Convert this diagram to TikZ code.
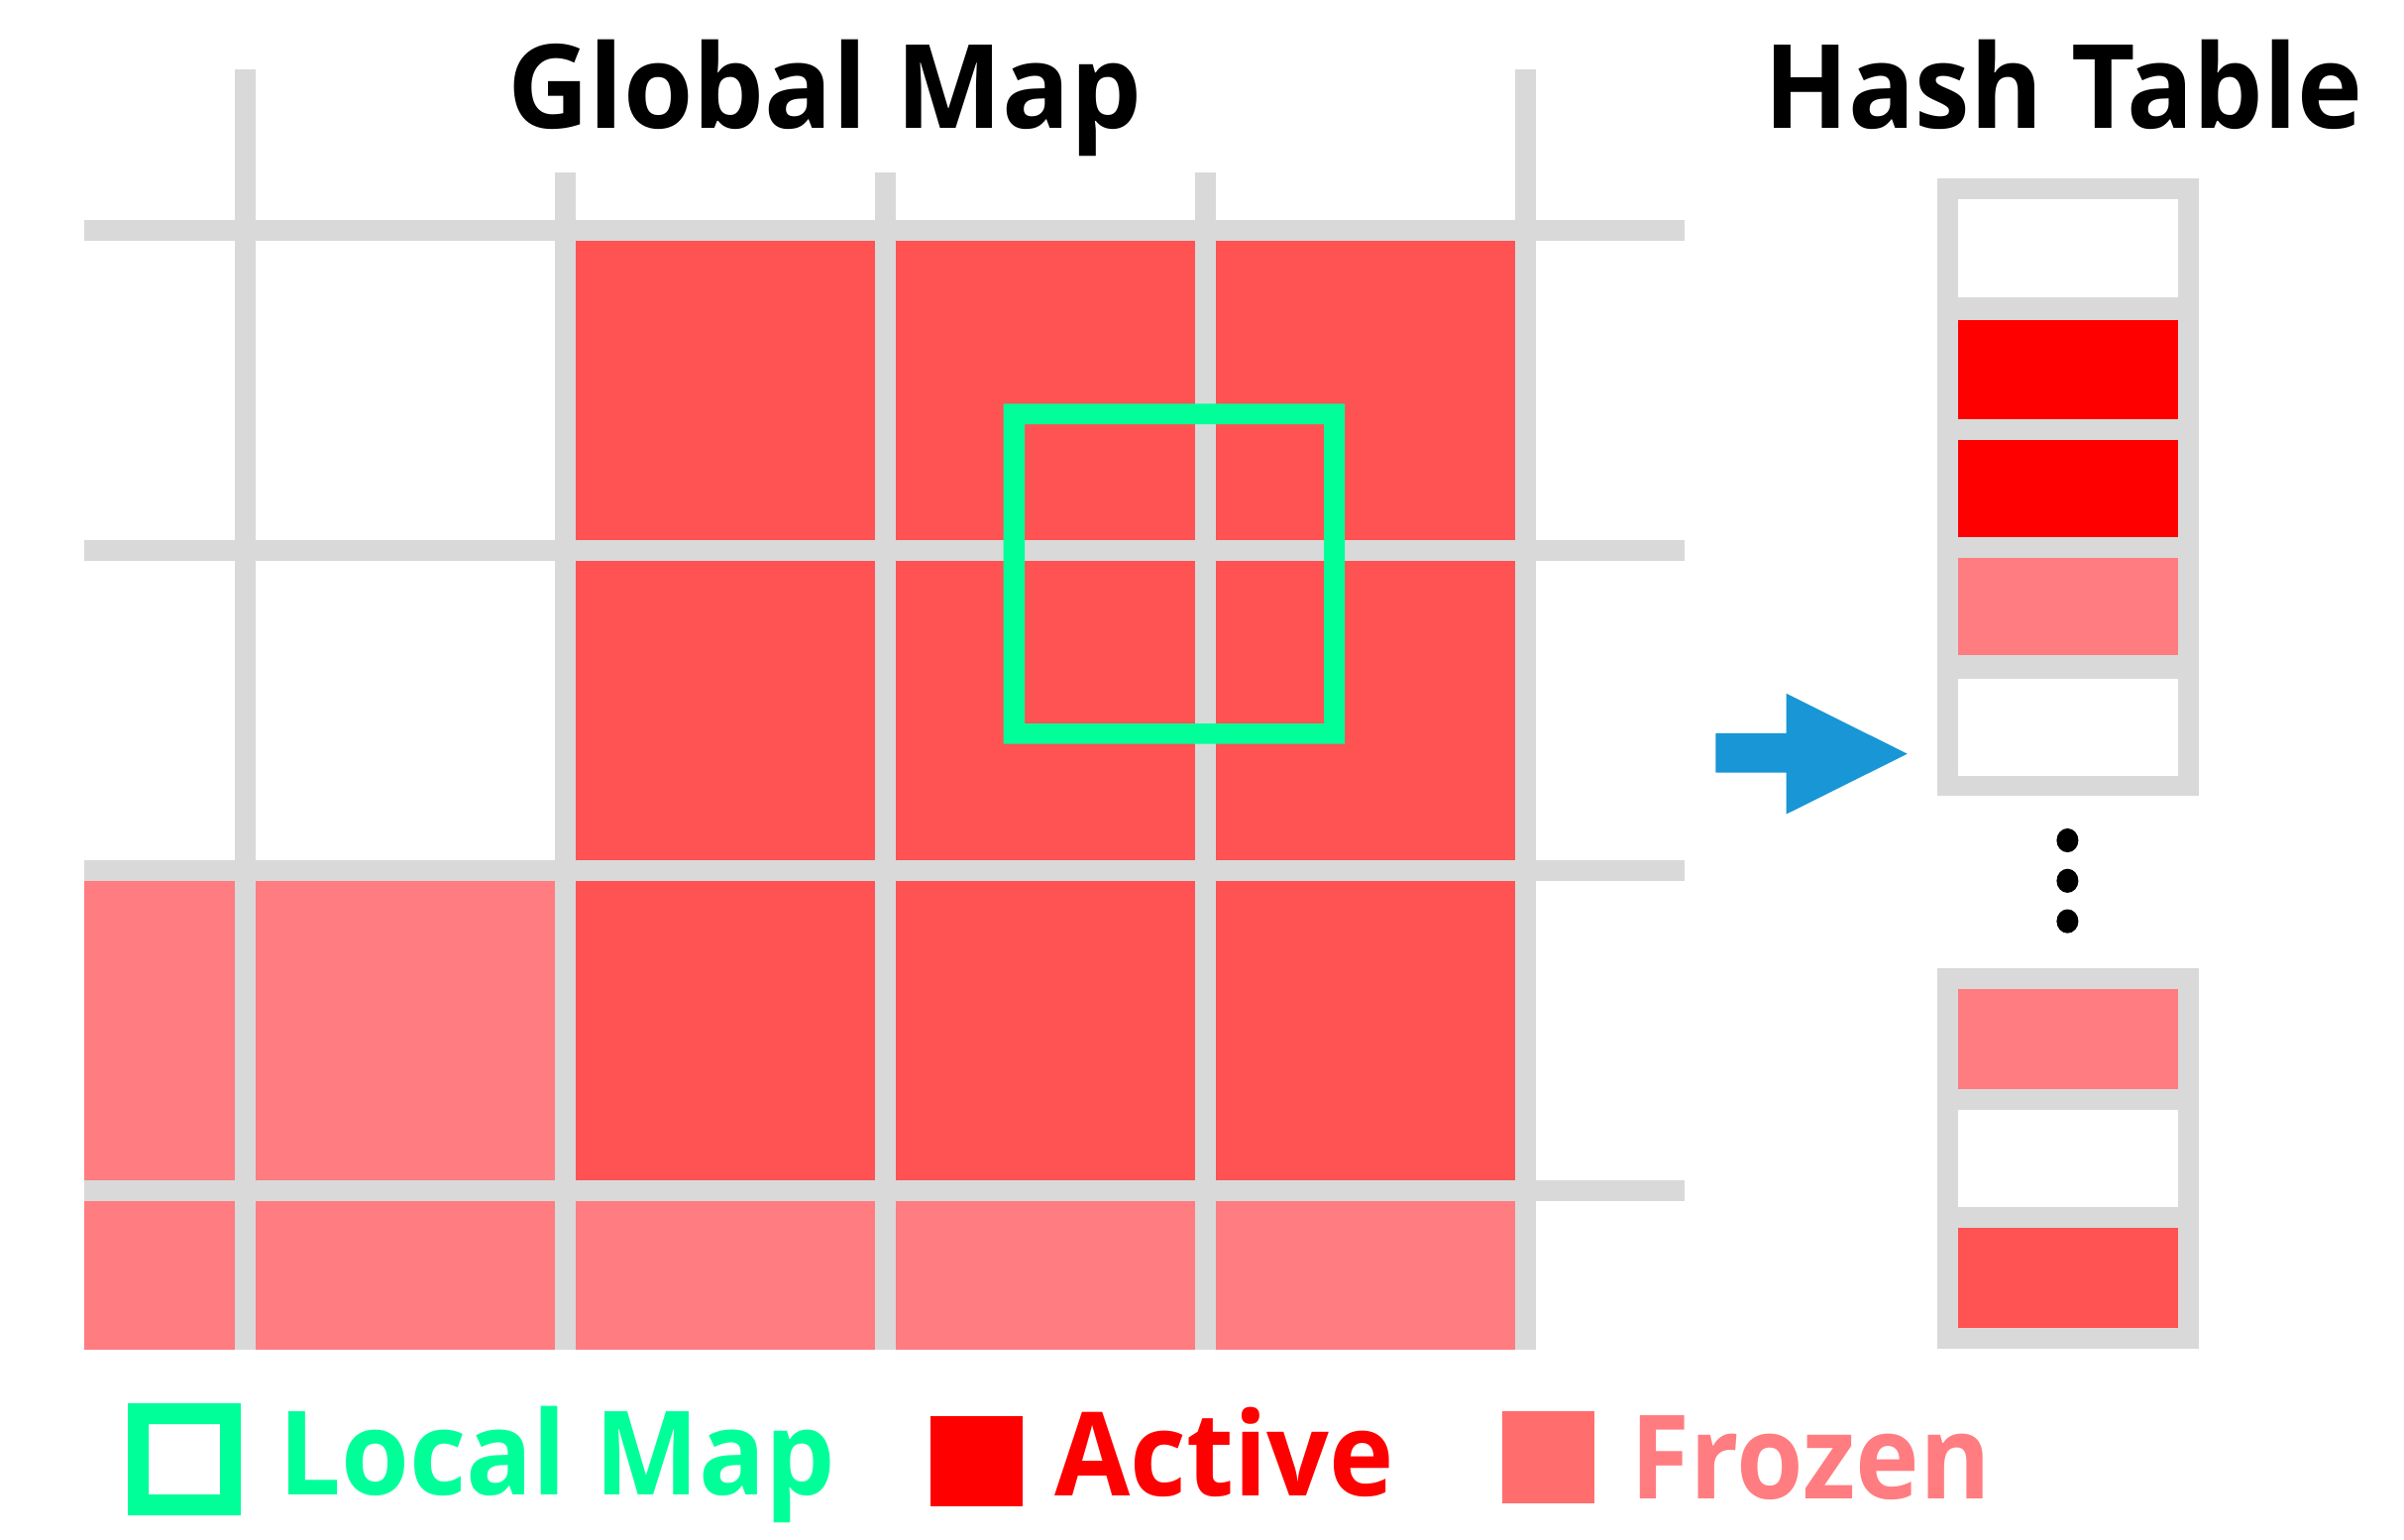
\documentclass[tikz,border=0pt]{standalone}
\usepackage{fontspec}
\setmainfont{Open Sans}
\usepackage{graphicx}
\definecolor{gridgray}{HTML}{D9D9D9}
\definecolor{activecell}{HTML}{FF5252}
\definecolor{frozencell}{HTML}{FF7C80}
\definecolor{frozenkey}{HTML}{FF6D6D}
\definecolor{hashred}{HTML}{FF0000}
\definecolor{localgreen}{HTML}{00FF99}
\definecolor{arrowblue}{HTML}{1896D5}
\tikzset{
  bigtext/.style={anchor=base west, inner sep=0pt, font=\fontsize{117.6}{120}\selectfont\bfseries},
  dotnode/.style={circle, fill=black, minimum size=22pt, inner sep=0pt, yscale=1.1},
}
\begin{document}
\begin{tikzpicture}[x=1pt,y=-1pt]
\useasboundingbox (0,0) rectangle (2426,1554);
% cells
\fill[activecell] (570.5,232.4) rectangle (1539.5,1201.4);
\fill[frozencell] (85,878.4) rectangle (570.5,1201.4);
\fill[frozencell] (85,1201.4) rectangle (1539.5,1362.2);
% horizontal grid lines
\foreach \y in {232.4,555.4,878.4,1201.4}
  \fill[gridgray] (85,\y-10.4) rectangle (1700.4,\y+10.4);
% vertical grid lines
\foreach \x/\t in {247.5/70,570.5/174,893.5/174,1216.5/174,1539.5/70}
  \fill[gridgray] (\x-10.85,\t) rectangle (\x+10.85,1362.2);
% local map box
\fill[localgreen, even odd rule] (1012.6,407.3) rectangle (1357,750.7) (1034,428.1) rectangle (1336,730);
% titles
\node[bigtext] (gm) at (512,129.8) {\resizebox{640pt}{\height}{Global Map}};
\node[bigtext] (ht) at (1780,129.8) {\resizebox{604pt}{\height}{Hash Table}};
% arrow
\fill[arrowblue] (1731.3,739.8) -- (1802.5,739.8) -- (1802.5,699.7) -- (1924.7,760.7)
  -- (1802.5,821.6) -- (1802.5,779.5) -- (1731.3,779.5) -- cycle;
% hash table upper
\fill[gridgray] (1955,179.9) rectangle (2218.6,803.3);
\fill[white] (1975.7,201.2) rectangle (2197.8,300.3);
\fill[hashred] (1975.7,323.1) rectangle (2197.8,423.2);
\fill[hashred] (1975.7,444) rectangle (2197.8,542.1);
\fill[frozencell] (1975.7,563) rectangle (2197.8,661);
\fill[white] (1975.7,684.8) rectangle (2197.8,783);
% dots
\node[dotnode] (d1) at (2086.4,848) {};
\node[dotnode] (d2) at (2086.4,888.8) {};
\node[dotnode] (d3) at (2086.4,929.6) {};
% hash table lower
\fill[gridgray] (1955,977.2) rectangle (2218.6,1361.2);
\fill[frozencell] (1975.7,998) rectangle (2197.8,1099.1);
\fill[white] (1975.7,1119.9) rectangle (2197.8,1217.5);
\fill[activecell] (1975.7,1238.8) rectangle (2197.8,1339.9);
% legend
\fill[localgreen, even odd rule] (129.2,1416.2) rectangle (242.9,1529.2) (150,1437) rectangle (222,1508);
\node[bigtext, text=localgreen] (lm) at (281,1508) {\resizebox{562pt}{\height}{Local Map}};
\fill[hashred] (939,1429.1) rectangle (1032,1520.3);
\node[bigtext, text=hashred] (ac) at (1064,1509) {\resizebox{343pt}{\height}{Active}};
\fill[frozenkey] (1516.2,1424.2) rectangle (1609,1516.8);
\node[bigtext, text=frozencell] (fr) at (1645,1512) {\resizebox{364pt}{\height}{Frozen}};
\end{tikzpicture}
\end{document}
